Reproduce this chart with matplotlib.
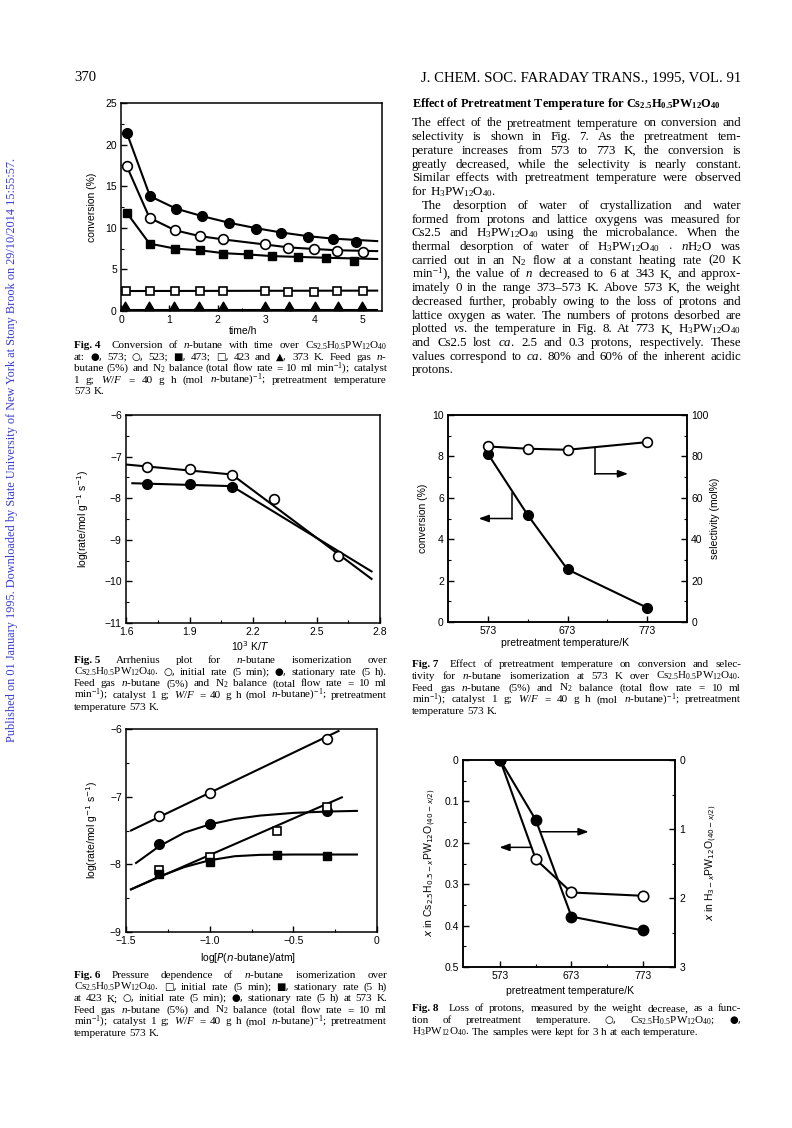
import matplotlib
matplotlib.use("Agg")
import matplotlib.pyplot as plt
from matplotlib.path import Path
from matplotlib.ticker import MultipleLocator, FixedLocator, FuncFormatter

W, H, DPI = 792, 1128, 100

# ---------------- data ----------------
# Fig. 4  conversion (%) against time (h)
t_573 = [0.12, 0.60, 1.14, 1.68, 2.24, 2.80, 3.30, 3.86, 4.38, 4.86]
conv_573 = [21.4, 13.8, 12.3, 11.4, 10.6, 9.9, 9.4, 8.9, 8.7, 8.3]
t_523 = [0.12, 0.59, 1.12, 1.63, 2.12, 2.97, 3.46, 4.00, 4.46, 5.00]
conv_523 = [17.4, 11.2, 9.7, 9.0, 8.6, 8.0, 7.6, 7.4, 7.2, 7.05]
t_473 = [0.12, 0.59, 1.12, 1.63, 2.12, 2.62, 3.12, 3.67, 4.24, 4.83]
conv_473 = [11.8, 8.1, 7.5, 7.3, 6.9, 6.8, 6.6, 6.45, 6.35, 6.0]
t_423 = [0.10, 0.59, 1.12, 1.63, 2.12, 2.97, 3.46, 4.00, 4.46, 5.00]
conv_423 = [2.45, 2.45, 2.35, 2.35, 2.35, 2.4, 2.3, 2.3, 2.4, 2.4]
t_373 = [0.08, 0.57, 1.10, 1.62, 2.10, 2.98, 3.48, 4.01, 4.49, 4.98]
conv_373 = [0.08, 0.08, 0.08, 0.08, 0.08, 0.08, 0.08, 0.08, 0.08, 0.08]
# drawn curves of fig. 4
fit_573_t = [0.12, 0.60, 1.14, 1.68, 2.24, 2.80, 3.30, 3.86, 4.38, 5.30]
fit_573_c = [21.4, 13.8, 12.3, 11.4, 10.6, 9.95, 9.45, 9.0, 8.7, 8.4]
fit_523_t = [0.12, 0.59, 1.12, 1.63, 2.12, 2.97, 3.46, 4.00, 4.46, 5.30]
fit_523_c = [17.4, 11.2, 9.7, 9.0, 8.6, 8.0, 7.65, 7.45, 7.3, 7.2]
fit_473_t = [0.12, 0.59, 1.12, 1.63, 2.12, 2.62, 3.12, 3.67, 4.24, 5.30]
fit_473_c = [11.8, 8.1, 7.5, 7.3, 6.95, 6.8, 6.6, 6.5, 6.4, 6.25]
fit_423_t = [0.0, 5.30]
fit_423_c = [2.4, 2.45]
fit_373_t = [0.0, 5.30]
fit_373_c = [0.08, 0.08]

# Fig. 5  Arrhenius plot
inv_t_open = [1.7, 1.9, 2.1, 2.3, 2.6]
log_r_open = [-7.24, -7.30, -7.44, -8.02, -9.38]
inv_t_fill = [1.7, 1.9, 2.1]
log_r_fill = [-7.66, -7.66, -7.72]
fit5_open_x = [1.60, 2.10, 2.76]
fit5_open_y = [-7.19, -7.43, -9.94]
fit5_fill_x = [1.63, 2.10, 2.76]
fit5_fill_y = [-7.64, -7.71, -9.76]

# Fig. 6  pressure dependence
logp_circ = [-1.3, -1.0, -0.3]
rate_573_init = [-7.29, -6.94, -6.15]
rate_573_stat = [-7.70, -7.41, -7.21]
logp_sq = [-1.3, -1.0, -0.6, -0.3]
rate_423_init = [-8.08, -7.89, -7.51, -7.15]
rate_423_stat = [-8.14, -7.97, -7.86, -7.87]
fit6_oc_x = [-1.47, -0.23]
fit6_oc_y = [-7.50, -6.03]
fit6_os_x = [-1.47, -0.21]
fit6_os_y = [-8.37, -7.01]
fit6_fc_x = [-1.44, -1.30, -1.15, -1.0, -0.85, -0.70, -0.50, -0.30, -0.12]
fit6_fc_y = [-7.98, -7.73, -7.53, -7.41, -7.33, -7.28, -7.24, -7.22, -7.21]
fit6_fs_x = [-1.47, -1.30, -1.15, -1.0, -0.85, -0.70, -0.50, -0.12]
fit6_fs_y = [-8.37, -8.18, -8.04, -7.94, -7.88, -7.86, -7.855, -7.855]

# Fig. 7  pretreatment temperature
pre_temp = [573, 623, 673, 773]
conversion7 = [8.13, 5.17, 2.54, 0.69]
selectivity7 = [84.8, 83.7, 83.2, 86.9]
arrow7_sel_x = [707, 707, 749]
arrow7_sel_y = [84.0, 71.6, 71.6]
arrow7_conv_x = [603.4, 603.4, 561.5]
arrow7_conv_y = [6.25, 5.0, 5.0]

# Fig. 8  loss of protons
x_cs25 = [0.0, 0.240, 0.320, 0.328]
x_h3 = [0.0, 0.87, 2.27, 2.47]
arrow8_right_x = [630, 697]
arrow8_right_y = [1.04, 1.04]
arrow8_left_x = [617, 572]
arrow8_left_y = [0.211, 0.211]

# ---------------- text of the page ----------------
CS25 = r"Cs$_{2.5}$H$_{0.5}$PW$_{12}$O$_{40}$"
H3 = r"H$_3$PW$_{12}$O$_{40}$"

body_lines = [
    "The effect of the pretreatment temperature on conversion and",
    "selectivity is shown in Fig. 7. As the pretreatment tem-",
    "perature increases from 573 to 773 K, the conversion is",
    "greatly decreased, while the selectivity is nearly constant.",
    "Similar effects with pretreatment temperature were observed",
    "for " + H3 + ".",
    "The desorption of water of crystallization and water",
    "formed from protons and lattice oxygens was measured for",
    "Cs2.5 and " + H3 + " using the microbalance. When the",
    "thermal desorption of water of " + H3 + r" $\cdot$ $n$H$_2$O was",
    r"carried out in an N$_2$ flow at a constant heating rate (20 K",
    r"min$^{-1}$), the value of $n$ decreased to 6 at 343 K, and approx-",
    "imately 0 in the range 373\u2013573 K. Above 573 K, the weight",
    "decreased further, probably owing to the loss of protons and",
    "lattice oxygen as water. The numbers of protons desorbed are",
    r"plotted $vs$. the temperature in Fig. 8. At 773 K, " + H3,
    r"and Cs2.5 lost $ca$. 2.5 and 0.3 protons, respectively. These",
    r"values correspond to $ca$. 80% and 60% of the inherent acidic",
    "protons.",
]
body_last = {5, 18}
body_indent = {6}

FIG = "*Fig.\u00a0"
cap4 = [
    FIG + "4\u00a0\u00a0 Conversion of $n$-butane with time over " + CS25,
    "at: \u25cf, 573; \u25cb, 523; \u25a0, 473; \u25a1, 423 and \u25b2, 373 K. Feed gas $n$-",
    r"butane (5%) and N$_2$ balance (total flow rate = 10 ml min$^{-1}$); catalyst",
    r"1 g; $W/F$ = 40 g h (mol $n$-butane)$^{-1}$; pretreatment temperature",
    "573 K.",
]
cap5 = [
    FIG + "5 Arrhenius plot for $n$-butane isomerization over",
    CS25 + ". \u25cb, initial rate (5 min); \u25cf, stationary rate (5 h).",
    r"Feed gas $n$-butane (5%) and N$_2$ balance (total flow rate = 10 ml",
    r"min$^{-1}$); catalyst 1 g; $W/F$ = 40 g h (mol $n$-butane)$^{-1}$; pretreatment",
    "temperature 573 K.",
]
cap6 = [
    FIG + "6 Pressure dependence of $n$-butane isomerization over",
    CS25 + ". \u25a1, initial rate (5 min); \u25a0, stationary rate (5 h)",
    "at 423 K; \u25cb, initial rate (5 min); \u25cf, stationary rate (5 h) at 573 K.",
    r"Feed gas $n$-butane (5%) and N$_2$ balance (total flow rate = 10 ml",
    r"min$^{-1}$); catalyst 1 g; $W/F$ = 40 g h (mol $n$-butane)$^{-1}$; pretreatment",
    "temperature 573 K.",
]
cap7 = [
    FIG + "7\u00a0\u00a0 Effect of pretreatment temperature on conversion and selec-",
    "tivity for $n$-butane isomerization at 573 K over " + CS25 + ".",
    r"Feed gas $n$-butane (5%) and N$_2$ balance (total flow rate = 10 ml",
    r"min$^{-1}$); catalyst 1 g; $W/F$ = 40 g h (mol $n$-butane)$^{-1}$; pretreatment",
    "temperature 573 K.",
]
cap8 = [
    FIG + "8\u00a0\u00a0 Loss of protons, measured by the weight decrease, as a func-",
    "tion of pretreatment temperature. \u25cb, " + CS25 + "; \u25cf,",
    H3 + ". The samples were kept for 3 h at each temperature.",
]
side_note = ("Published on 01 January 1995. Downloaded by State University of New York "
             "at Stony Brook on 29/10/2014 15:55:57.")
SYMBOLS = "\u25cf\u25cb\u25a0\u25a1\u25b2"

# ---------------- styling ----------------
plt.rcParams['font.family'] = ['Liberation Sans', 'DejaVu Sans']
plt.rcParams['mathtext.fontset'] = 'custom'
plt.rcParams['mathtext.rm'] = 'Liberation Serif'
plt.rcParams['mathtext.it'] = 'Liberation Serif:italic'
plt.rcParams['mathtext.bf'] = 'Liberation Serif:bold'
SERIF = ['Liberation Serif', 'DejaVu Serif', 'DejaVu Sans']
TICK_FS = 7.5
LABEL_FS = 7.5
BODY_FS = 9.3
CAP_FS = 8.0
LW = 1.5
MS = 7

LEFT_COL = (74, 387)
RIGHT_COL = (412, 741)

fig = plt.figure(figsize=(W / DPI, H / DPI), dpi=DPI)
fig.patch.set_facecolor('white')
renderer = fig.canvas.get_renderer()


def fx(x):
    return x / W


def fy(y):
    return 1 - y / H


def make_token(tok, y, size):
    weight, family, tsize = 'normal', SERIF, size
    if tok.startswith('*'):
        tok, weight = tok[1:], 'bold'
    if tok and tok[0] in SYMBOLS:
        family, tsize = ['DejaVu Sans'], size * 0.9
    return fig.text(0, fy(y), tok, fontsize=tsize, family=family,
                    fontweight=weight, va='baseline', ha='left')


def put_line(line, x0, x1, y, size, justify=True, indent=0):
    # place a line word by word, spreading the gaps to fill the column;
    # the size is eased down a little when the words would not fit
    tokens = line.split(' ')
    start = x0 + indent
    while True:
        objs = [make_token(tok, y, size) for tok in tokens]
        widths = [t.get_window_extent(renderer).width for t in objs]
        em = size * DPI / 72
        if justify and len(objs) > 1:
            gap = (x1 - start - sum(widths)) / (len(objs) - 1)
        else:
            gap = em * 0.25
        if gap >= em * 0.22 or size < 6:
            break
        for t in objs:
            t.remove()
        size *= 0.98
    x = start
    for t, w in zip(objs, widths):
        t.set_x(fx(x))
        x += w + gap


def put_block(lines, col, y0, step, size):
    for i, line in enumerate(lines):
        put_line(line, col[0], col[1], y0 + i * step + 3, size,
                 justify=(i < len(lines) - 1))


def add_axes_px(box):
    left, top, right, bottom = box
    return fig.add_axes([fx(left), fy(bottom), (right - left) / W, (bottom - top) / H])


def style(ax):
    for s in ax.spines.values():
        s.set_linewidth(1.1)
    ax.tick_params(which='both', direction='in', labelsize=TICK_FS, pad=3)
    ax.tick_params(which='major', length=4, width=1.0)
    ax.tick_params(which='minor', length=2.2, width=0.8)


def num_fmt(v, pos):
    return f"{v:g}".replace('-', '\u2212')


def one_dec(v, pos):
    return "0" if abs(v) < 1e-9 else f"{v:.1f}".replace('-', '\u2212')


def place_labels(ax, box, ylab=None, xlab=None):
    left, top, right, bottom = box
    if ylab is not None:
        ax.yaxis.set_label_coords((ylab[0] - left) / (right - left), (bottom - ylab[1]) / (bottom - top))
    if xlab is not None:
        ax.xaxis.set_label_coords((xlab[0] - left) / (right - left), (bottom - xlab[1]) / (bottom - top))


def open_kw():
    return dict(marker='o', ms=MS, mfc='white', mec='black', mew=1.2, ls='none', zorder=4)


def fill_kw(marker='o'):
    return dict(marker=marker, ms=MS, mfc='black', mec='black', mew=1.0, ls='none', zorder=4)


line_kw = dict(color='black', lw=LW, zorder=2)
arrow_kw = dict(arrowstyle='-|>,head_length=0.6,head_width=0.22', color='black', lw=1.1,
                shrinkA=0, shrinkB=0)
tri_up = Path([(-1, 0), (1, 0), (0, 1.7), (-1, 0)],
              [Path.MOVETO, Path.LINETO, Path.LINETO, Path.CLOSEPOLY])

# ---------------- Fig. 4 ----------------
B4 = (121, 103, 382, 311)
ax4 = add_axes_px(B4)
style(ax4)
ax4.plot(fit_573_t, fit_573_c, **line_kw)
ax4.plot(fit_523_t, fit_523_c, **line_kw)
ax4.plot(fit_473_t, fit_473_c, **line_kw)
ax4.plot(fit_423_t, fit_423_c, **line_kw)
ax4.plot(fit_373_t, fit_373_c, **line_kw)
ax4.plot(t_573, conv_573, **fill_kw('o'))
ax4.plot(t_523, conv_523, **open_kw())
ax4.plot(t_473, conv_473, **dict(fill_kw('s'), ms=6.3))
ax4.plot(t_423, conv_423, marker='s', ms=6, mfc='white', mec='black', mew=1.2, ls='none', zorder=4)
ax4.plot(t_373, conv_373, marker=tri_up, ms=12, mfc='black', mec='black', ls='none', zorder=4, clip_on=False)
ax4.set_xlim(0, 5.4)
ax4.set_ylim(0, 25)
ax4.xaxis.set_major_locator(MultipleLocator(1))
ax4.xaxis.set_minor_locator(MultipleLocator(0.5))
ax4.yaxis.set_major_locator(MultipleLocator(5))
ax4.yaxis.set_minor_locator(MultipleLocator(2.5))
ax4.set_ylabel("conversion (%)", fontsize=LABEL_FS, va='center')
ax4.set_xlabel("time/h", fontsize=LABEL_FS, va='center')
place_labels(ax4, B4, (92, 207), (243, 331))

# ---------------- Fig. 5 ----------------
B5 = (126, 415, 380, 623)
ax5 = add_axes_px(B5)
style(ax5)
ax5.plot(fit5_open_x, fit5_open_y, **line_kw)
ax5.plot(fit5_fill_x, fit5_fill_y, **line_kw)
ax5.plot(inv_t_open, log_r_open, **open_kw())
ax5.plot(inv_t_fill, log_r_fill, **fill_kw('o'))
ax5.set_xlim(1.6, 2.8)
ax5.set_ylim(-11, -6)
ax5.xaxis.set_major_locator(FixedLocator([1.6, 1.9, 2.2, 2.5, 2.8]))
ax5.xaxis.set_minor_locator(FixedLocator([1.75, 2.05, 2.35, 2.65]))
ax5.yaxis.set_major_locator(MultipleLocator(1))
ax5.yaxis.set_minor_locator(MultipleLocator(0.5))
ax5.xaxis.set_major_formatter(FuncFormatter(num_fmt))
ax5.yaxis.set_major_formatter(FuncFormatter(num_fmt))
ax5.set_ylabel(r"log(rate/mol g$^{-1}$ s$^{-1}$)", fontsize=LABEL_FS, va='center',
               math_fontfamily='dejavusans')
ax5.set_xlabel(r"10$^3$ K/$T$", fontsize=LABEL_FS, va='center', math_fontfamily='dejavusans')
place_labels(ax5, B5, (83, 519), (250, 646))

# ---------------- Fig. 6 ----------------
B6 = (126, 729, 377, 932)
ax6 = add_axes_px(B6)
style(ax6)
ax6.plot(fit6_oc_x, fit6_oc_y, **line_kw)
ax6.plot(fit6_os_x, fit6_os_y, **line_kw)
ax6.plot(fit6_fc_x, fit6_fc_y, **line_kw)
ax6.plot(fit6_fs_x, fit6_fs_y, **line_kw)
ax6.plot(logp_circ, rate_573_init, **open_kw())
ax6.plot(logp_circ, rate_573_stat, **fill_kw('o'))
ax6.plot(logp_sq, rate_423_init, marker='s', ms=6.3, mfc='white', mec='black', mew=1.2, ls='none', zorder=4)
ax6.plot(logp_sq, rate_423_stat, **dict(fill_kw('s'), ms=6.3))
ax6.set_xlim(-1.5, 0)
ax6.set_ylim(-9, -6)
ax6.xaxis.set_major_locator(MultipleLocator(0.5))
ax6.xaxis.set_minor_locator(MultipleLocator(0.25))
ax6.yaxis.set_major_locator(MultipleLocator(1))
ax6.yaxis.set_minor_locator(MultipleLocator(0.5))
ax6.xaxis.set_major_formatter(FuncFormatter(one_dec))
ax6.yaxis.set_major_formatter(FuncFormatter(num_fmt))
ax6.set_ylabel(r"log(rate/mol g$^{-1}$ s$^{-1}$)", fontsize=LABEL_FS, va='center',
               math_fontfamily='dejavusans')
ax6.set_xlabel(r"log[$P$($n$-butane)/atm]", fontsize=LABEL_FS, va='center',
               math_fontfamily='dejavusans')
place_labels(ax6, B6, (92, 830), (248, 958))

# ---------------- Fig. 7 ----------------
B7 = (448, 415, 687, 622)
ax7 = add_axes_px(B7)
ax7r = ax7.twinx()
style(ax7)
style(ax7r)
ax7.plot(pre_temp, conversion7, **line_kw)
ax7.plot(pre_temp, conversion7, **fill_kw('o'))
ax7r.plot(pre_temp, selectivity7, **line_kw)
ax7r.plot(pre_temp, selectivity7, **open_kw())
ax7r.plot(arrow7_sel_x[:2], arrow7_sel_y[:2], color='black', lw=1.1)
ax7r.annotate('', xy=(arrow7_sel_x[2], arrow7_sel_y[2]), xytext=(arrow7_sel_x[1], arrow7_sel_y[1]),
              arrowprops=arrow_kw)
ax7.plot(arrow7_conv_x[:2], arrow7_conv_y[:2], color='black', lw=1.1)
ax7.annotate('', xy=(arrow7_conv_x[2], arrow7_conv_y[2]), xytext=(arrow7_conv_x[1], arrow7_conv_y[1]),
             arrowprops=arrow_kw)
ax7.set_xlim(523, 823)
ax7.set_ylim(0, 10)
ax7r.set_ylim(0, 100)
for a in (ax7, ax7r):
    a.xaxis.set_major_locator(FixedLocator([573, 673, 773]))
    a.xaxis.set_minor_locator(FixedLocator([623, 723]))
ax7.yaxis.set_major_locator(MultipleLocator(2))
ax7.yaxis.set_minor_locator(MultipleLocator(1))
ax7r.yaxis.set_major_locator(MultipleLocator(20))
ax7r.yaxis.set_minor_locator(MultipleLocator(10))
ax7.set_ylabel("conversion (%)", fontsize=LABEL_FS, va='center')
ax7r.set_ylabel("selectivity (mol%)", fontsize=LABEL_FS, va='center', rotation=90)
ax7.set_xlabel("pretreatment temperature/K", fontsize=LABEL_FS, va='center')
place_labels(ax7, B7, (423, 518), (565, 643))
place_labels(ax7r, B7, (715, 518))

# ---------------- Fig. 8 ----------------
B8 = (463, 760, 675, 967)
ax8 = add_axes_px(B8)
ax8r = ax8.twinx()
style(ax8)
style(ax8r)
ax8.plot(pre_temp, x_cs25, **line_kw)
ax8.plot(pre_temp, x_cs25, **dict(open_kw(), ms=7.5))
ax8r.plot(pre_temp, x_h3, **line_kw)
ax8r.plot(pre_temp, x_h3, **dict(fill_kw('o'), ms=7.5))
ax8r.annotate('', xy=(arrow8_right_x[1], arrow8_right_y[1]), xytext=(arrow8_right_x[0], arrow8_right_y[0]),
              arrowprops=arrow_kw)
ax8.annotate('', xy=(arrow8_left_x[1], arrow8_left_y[1]), xytext=(arrow8_left_x[0], arrow8_left_y[0]),
             arrowprops=arrow_kw)
ax8.set_xlim(521, 818)
ax8.set_ylim(0.5, 0)
ax8r.set_ylim(3, 0)
for a in (ax8, ax8r):
    a.xaxis.set_major_locator(FixedLocator([573, 673, 773]))
    a.xaxis.set_minor_locator(FixedLocator([623, 723]))
ax8.yaxis.set_major_locator(MultipleLocator(0.1))
ax8.yaxis.set_minor_locator(MultipleLocator(0.05))
ax8.yaxis.set_major_formatter(FuncFormatter(num_fmt))
ax8r.yaxis.set_major_locator(MultipleLocator(1))
ax8r.yaxis.set_minor_locator(MultipleLocator(0.5))
ax8.set_ylabel(r"$x$ in Cs$_{2.5}$H$_{0.5-x}$PW$_{12}$O$_{(40-x/2)}$", fontsize=LABEL_FS,
               va='center', math_fontfamily='dejavusans')
ax8r.set_ylabel(r"$x$ in H$_{3-x}$PW$_{12}$O$_{(40-x/2)}$", fontsize=LABEL_FS, va='center',
                rotation=90, math_fontfamily='dejavusans')
ax8.set_xlabel("pretreatment temperature/K", fontsize=LABEL_FS, va='center')
place_labels(ax8, B8, (430, 863), (570, 991))
place_labels(ax8r, B8, (711, 863))

# ---------------- page text ----------------
fig.text(fx(74), fy(81), "370", fontsize=10.6, family=SERIF, va='baseline', ha='left')
fig.text(fx(741), fy(81), "J. CHEM. SOC. FARADAY TRANS., 1995, VOL. 91", fontsize=10.6,
         family=SERIF, va='baseline', ha='right')
fig.text(fx(412), fy(107), "Effect of Pretreatment Temperature for " +
         r"Cs$_{\mathbf{2.5}}$H$_{\mathbf{0.5}}$PW$_{\mathbf{12}}$O$_{\mathbf{40}}$",
         fontsize=8.9, family=SERIF, fontweight='bold', va='baseline', ha='left')

for i, line in enumerate(body_lines):
    indent = 10 if i in body_indent else 0
    put_line(line, RIGHT_COL[0], RIGHT_COL[1], 123 + i * 13.72 + 3.5, BODY_FS,
             justify=(i not in body_last), indent=indent)

put_block(cap4, LEFT_COL, 345, 11.6, CAP_FS)
put_block(cap5, LEFT_COL, 660, 11.7, CAP_FS)
put_block(cap6, LEFT_COL, 975, 11.6, CAP_FS)
put_block(cap7, RIGHT_COL, 664, 11.8, CAP_FS)
put_block(cap8, RIGHT_COL, 1008, 12.0, CAP_FS)

side = fig.text(fx(12), fy(450), side_note, fontsize=8, family=SERIF, color='#3a3ad0',
                rotation=90, va='center', ha='center')
side_len = side.get_window_extent(renderer).height
side.set_fontsize(8 * 580 / side_len)

fig.savefig("out.png", dpi=DPI, facecolor='white')
